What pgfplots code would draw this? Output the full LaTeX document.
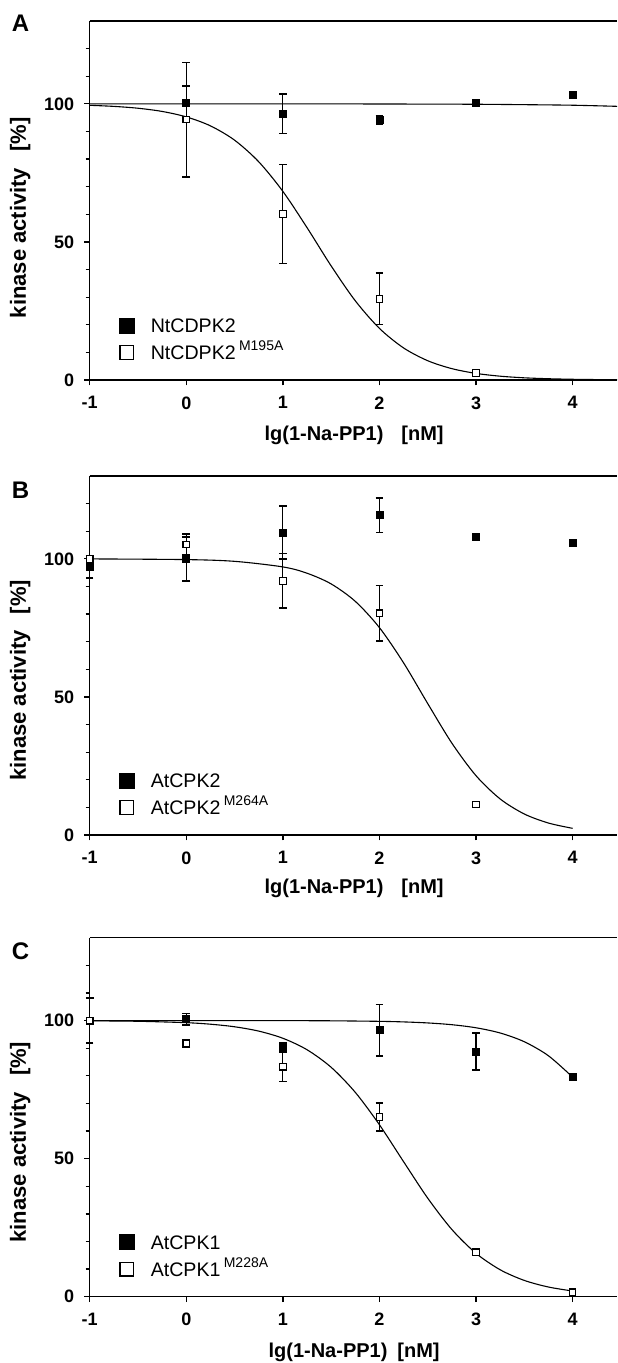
\documentclass[border=0pt]{standalone}
\usepackage{fontspec}
\setmainfont{Liberation Sans}
\usepackage{pgfplots}
\pgfplotsset{compat=1.18}

\pgfplotsset{
  panel/.style={
    scale only axis, width=263.65pt, height=179.5pt,
    xmin=-1, xmax=4.46, ymin=0, ymax=130,
    axis lines=left, axis line style={-, line width=0.65pt, black},
    clip=false,
    xtick={-1,0,1,2,3,4}, xticklabels={-1,0,1,2,3,4},
    ytick={0,50,100}, yticklabels={0,50,100},
    minor ytick={10,20,30,40,60,70,80,90,110,120},
    tick align=outside, tick style={line width=0.65pt, black},
    major tick length=2.7pt, minor tick length=2pt,
    ticklabel style={font=\fontsize{9}{10}\selectfont\bfseries},
    xticklabel style={yshift=-2pt},
    yticklabel style={xshift=-1.5pt},
    legend style={at={(rel axis cs:0.0556,0.039)}, anchor=south west,
      draw=none, fill=none, inner sep=0pt, outer sep=0pt,
      row sep=0pt, column sep=8pt,
      font=\fontsize{9.8}{11}\selectfont,
      nodes={inner sep=0pt, text height=10.25pt, text depth=3.25pt},
      cells={anchor=west, inner sep=0pt}},
  },
  fitline/.style={black, line width=0.55pt, smooth, no markers, forget plot},
  wt/.style={black, only marks, mark=square*, mark size=1.75pt,
    mark options={fill=black, draw=black, line width=0.3pt}},
  mut/.style={black, only marks, mark=square*, mark size=1.65pt,
    mark options={fill=white, draw=black, line width=0.55pt}},
  eb/.style={error bars/.cd, y dir=both, y explicit,
    error bar style={line width=0.6pt, black},
    error mark options={rotate=90, mark size=1.9pt, line width=0.8pt, black}},
  wtleg/.style={legend image code/.code={
    \fill[black] (0pt,-3.75pt) rectangle (7.5pt,3.75pt);}},
  mutleg/.style={legend image code/.code={
    \draw[draw=black, line width=0.65pt, fill=white] (0.3pt,-3.45pt) rectangle (7.2pt,3.45pt);}},
}
\newcommand{\sups}[1]{\,\raisebox{4.5pt}{\fontsize{7}{8}\selectfont #1}}
\newcommand{\ylab}{kinase activity\hspace{8pt}[\%]}

\begin{document}
\begin{tikzpicture}
\useasboundingbox (0,0) rectangle (308.5pt,-681.5pt);

% ---- panel A
\begin{axis}[panel, at={(44.85pt,-190pt)}, anchor=south west]
  \addplot[fitline] coordinates {(-1,100)(0,100)(1,100)(2,99.95)(2.5,99.9)(3,99.85)(3.5,99.7)(4,99.5)(4.46,99.1)};
  \addplot[fitline] coordinates {(-1,99.47)(-0.75,99.08)(-0.5,98.41)(-0.25,97.25)(0,95.28)(0.25,92.03)(0.5,86.85)(0.75,79.03)(1,68.31)(1.25,55.19)(1.5,41.31)(1.75,28.68)(2,18.69)(2.25,11.61)(2.5,6.98)(2.75,4.11)(3,2.39)(3.25,1.38)(3.5,0.79)(3.75,0.46)(4,0.26)(4.25,0.15)(4.46,0.09)};
  \addplot[wt, wtleg, eb] coordinates {(0,100.4) +- (0,6) (1,96.4) +- (0,7.1) (2,94.2) +- (0,1.5)};
  \addlegendentry{NtCDPK2}
  \addplot[wt, forget plot] coordinates {(3,100.4)(4,103.4)};
  \addplot[mut, mutleg, eb] coordinates {(0,94.3) +- (0,20.7) (1,60.1) +- (0,17.9) (2,29.4) +- (0,9.3)};
  \addlegendentry{NtCDPK2\sups{M195A}}
  \addplot[mut, forget plot] coordinates {(3,2.5)};
  \draw[line width=0.65pt] (rel axis cs:0,1) -- (rel axis cs:1,1);
  \node[font=\fontsize{12}{14}\selectfont\bfseries] at (axis cs:-1.716,129.1) {A};
  \node[rotate=90, font=\fontsize{11}{13}\selectfont\bfseries] at (axis cs:-1.72,58.7) {\ylab};
  \node[anchor=base, font=\fontsize{10}{12}\selectfont\bfseries] at (axis cs:1.738,-22) {lg(1-Na-PP1)\hspace{9pt}[nM]};
\end{axis}

% ---- panel B
\begin{axis}[panel, at={(44.85pt,-417.5pt)}, anchor=south west]
  \addplot[fitline] coordinates {(-1,99.98)(0,99.73)(0.5,99.10)(1,97.08)(1.25,94.80)(1.5,90.92)(1.75,84.61)(2,75.10)(2.25,62.34)(2.5,47.60)(2.75,33.27)(3,21.48)(3.25,13.06)(3.5,7.61)(3.75,4.33)(4,2.42)};
  \addplot[wt, wtleg, eb] coordinates {(-1,97) +- (0,4) (0,100) +- (0,8) (1,109.6) +- (0,9.6) (2,115.8) +- (0,6.2)};
  \addlegendentry{AtCPK2}
  \addplot[wt, forget plot] coordinates {(3,107.9)(4,105.9)};
  \addplot[mut, mutleg, eb] coordinates {(0,105.2) +- (0,3.7) (1,92.0) +- (0,9.9) (2,80.3) +- (0,10.1)};
  \addlegendentry{AtCPK2\sups{M264A}}
  \addplot[mut, forget plot] coordinates {(-1,100)(3,11.0)};
  \draw[line width=0.65pt] (rel axis cs:0,1) -- (rel axis cs:1,1);
  \node[font=\fontsize{12}{14}\selectfont\bfseries] at (axis cs:-1.716,125.0) {B};
  \node[rotate=90, font=\fontsize{11}{13}\selectfont\bfseries] at (axis cs:-1.72,56) {\ylab};
  \node[anchor=base, font=\fontsize{10}{12}\selectfont\bfseries] at (axis cs:1.738,-21) {lg(1-Na-PP1)\hspace{9pt}[nM]};
\end{axis}

% ---- panel C
\begin{axis}[panel, at={(44.85pt,-648.35pt)}, anchor=south west]
  \addplot[fitline] coordinates {(-1,100)(0,100)(1,99.97)(1.5,99.91)(2,99.72)(2.25,99.51)(2.5,99.14)(2.75,98.50)(3,97.39)(3.25,95.50)(3.5,92.33)(3.75,87.25)(4,79.53)};
  \addplot[fitline] coordinates {(-1,99.91)(-0.5,99.74)(0,99.23)(0.25,98.68)(0.5,97.75)(0.75,96.18)(1,93.59)(1.25,89.44)(1.5,83.08)(1.75,74.00)(2,62.27)(2.25,48.90)(2.5,35.69)(2.75,24.34)(3,15.72)(3.25,9.76)(3.5,5.90)(3.75,3.51)(4,2.07)};
  \addplot[wt, wtleg, eb] coordinates {(-1,100) +- (0,8.2) (0,100.5) +- (0,2) (1,90.3) +- (0,1.5) (2,96.5) +- (0,9.3) (3,88.8) +- (0,6.6) (4,79.6) +- (0,1.2)};
  \addlegendentry{AtCPK1}
  \addplot[mut, mutleg, eb] coordinates {(0,91.7) +- (0,1.3) (1,83.3) +- (0,5.4) (2,65.1) +- (0,5.1)};
  \addlegendentry{AtCPK1\sups{M228A}}
  \addplot[mut, forget plot] coordinates {(-1,100)(3,16.1)(4,1.6)};
  \draw[line width=0.65pt] (rel axis cs:0,1) -- (rel axis cs:1,1);
  \node[font=\fontsize{12}{14}\selectfont\bfseries] at (axis cs:-1.716,125.0) {C};
  \node[rotate=90, font=\fontsize{11}{13}\selectfont\bfseries] at (axis cs:-1.72,56) {\ylab};
  \node[anchor=base, font=\fontsize{10}{12}\selectfont\bfseries] at (axis cs:1.738,-22) {lg(1-Na-PP1)\hspace{5pt}[nM]};
\end{axis}
\end{tikzpicture}
\end{document}
